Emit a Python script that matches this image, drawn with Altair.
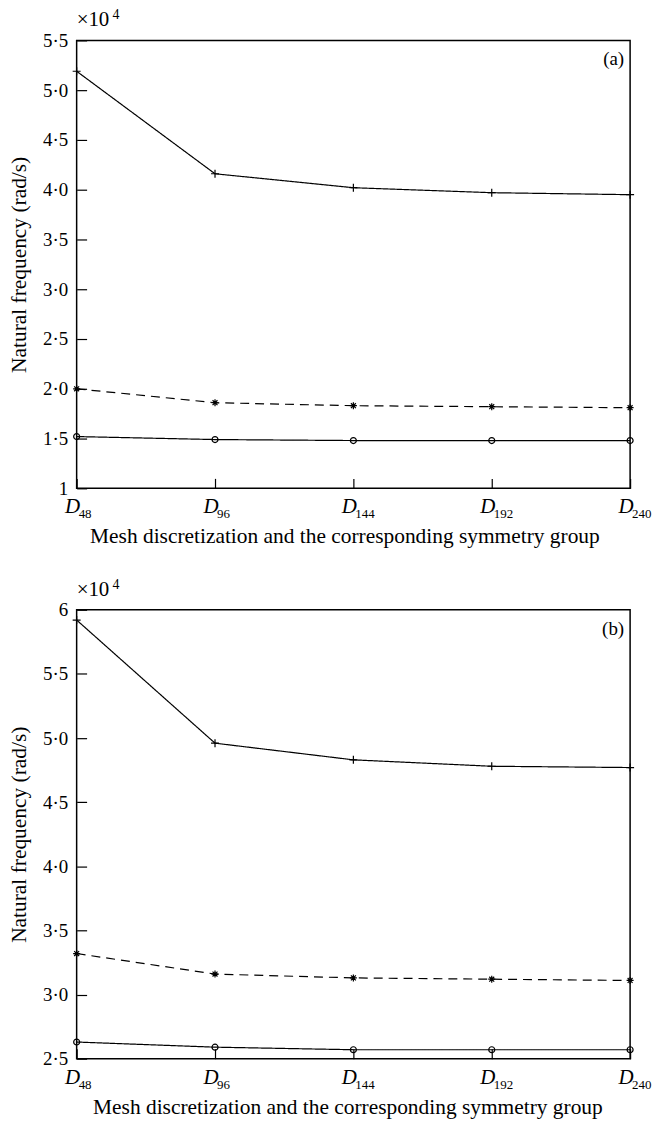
import altair as alt
import pandas as pd

# ---- data ----
groups = ["D48", "D96", "D144", "D192", "D240"]
subscripts = ["48", "96", "144", "192", "240"]
series_names = ["upper", "middle", "lower"]

a_upper = [5.19, 4.16, 4.02, 3.97, 3.95]
a_middle = [2.00, 1.86, 1.83, 1.82, 1.81]
a_lower = [1.52, 1.49, 1.48, 1.48, 1.48]

b_upper = [5.92, 4.96, 4.83, 4.78, 4.77]
b_middle = [3.32, 3.16, 3.13, 3.12, 3.11]
b_lower = [2.63, 2.59, 2.57, 2.57, 2.57]

a_ticks = [1.0, 1.5, 2.0, 2.5, 3.0, 3.5, 4.0, 4.5, 5.0, 5.5]
b_ticks = [2.5, 3.0, 3.5, 4.0, 4.5, 5.0, 5.5, 6.0]

x_title = "Mesh discretization and the corresponding symmetry group"
y_title = "Natural frequency (rad/s)"
mult_text = ["×10"]
exp_text = ["4"]
panel_tags = ["(a)", "(b)"]

FONT = "Liberation Serif"
PLUS = "M-1,0L1,0M0,-1L0,1"
STAR = "M-1,0L1,0M0,-1L0,1M-0.7,-0.7L0.7,0.7M-0.7,0.7L0.7,-0.7"


def panel(upper, middle, lower, ticks, tag, width, height, whole, xtitle_x):
    rows = []
    for s, vals in zip(series_names, [upper, middle, lower]):
        for g, v in zip(groups, vals):
            rows.append({"group": g, "series": s, "freq": v})
    df = pd.DataFrame(rows)

    xscale = alt.Scale(type="point", domain=groups, padding=0)
    x = alt.X("group:N", scale=xscale, sort=groups,
              axis=alt.Axis(title=x_title, labels=False, domain=False, grid=False,
                            tickSize=10, offset=-10, tickColor="black", tickWidth=1.2,
                            titleFont=FONT, titleFontSize=21.5, titleFontWeight="normal",
                            titleColor="black", titlePadding=37, titleX=xtitle_x,
                            titleAlign="center", titleAnchor="start"))
    label_expr = ("datum.value == %s ? '%s' : replace(format(datum.value, '.1f'), '.', '·')"
                  % (whole, whole))
    y = alt.Y("freq:Q", scale=alt.Scale(domain=[ticks[0], ticks[-1]], nice=False, zero=False),
              axis=alt.Axis(title=y_title, values=ticks, labelExpr=label_expr, domain=False,
                            grid=False, tickSize=10, offset=-10, tickColor="black", tickWidth=1.2,
                            labelFont=FONT, labelFontSize=19, labelColor="black", labelPadding=9,
                            titleFont=FONT, titleFontSize=21.5, titleFontWeight="normal",
                            titleColor="black", titlePadding=12))

    lines = alt.Chart(df).mark_line(color="black", strokeWidth=1.2).encode(
        x=x, y=y, detail="series:N",
        strokeDash=alt.StrokeDash("series:N", scale=alt.Scale(domain=series_names,
                                  range=[[1, 0], [9, 6], [1, 0]]), legend=None))
    pts = alt.Chart(df).mark_point(filled=False, color="black", strokeWidth=1.2, opacity=1).encode(
        x=x, y=y,
        shape=alt.Shape("series:N", scale=alt.Scale(domain=series_names,
                        range=[PLUS, STAR, "circle"]), legend=None),
        size=alt.Size("series:N", scale=alt.Scale(domain=series_names, range=[64, 36, 44]),
                      legend=None))

    labdf = pd.DataFrame({"group": groups, "sub": subscripts})
    dlab = alt.Chart(labdf).mark_text(text="D", font=FONT, fontStyle="italic", fontSize=21,
                                      align="center", baseline="alphabetic", dx=-4,
                                      color="black").encode(x=x, y=alt.value(height + 25))
    slab = alt.Chart(labdf).mark_text(font=FONT, fontSize=13, align="left",
                                      baseline="alphabetic", dx=2, color="black").encode(
        x=x, y=alt.value(height + 30), text="sub:N")

    mult = alt.Chart(pd.DataFrame({"t": mult_text})).mark_text(
        font=FONT, fontSize=21, align="left", baseline="alphabetic", color="black").encode(
        x=alt.value(0), y=alt.value(-14), text="t:N")
    expo = alt.Chart(pd.DataFrame({"t": exp_text})).mark_text(
        font=FONT, fontSize=14, align="left", baseline="alphabetic", color="black").encode(
        x=alt.value(36), y=alt.value(-21), text="t:N")
    tagc = alt.Chart(pd.DataFrame({"t": [tag]})).mark_text(
        font=FONT, fontSize=19, align="right", baseline="middle", color="black").encode(
        x=alt.value(width - 6), y=alt.value(19), text="t:N")

    return alt.layer(lines, pts, dlab, slab, mult, expo, tagc).properties(width=width, height=height)


pa = panel(a_upper, a_middle, a_lower, a_ticks, panel_tags[0], 556, 450, 1, 269)
pb = panel(b_upper, b_middle, b_lower, b_ticks, panel_tags[1], 556, 451, 6, 272)

chart = alt.vconcat(pa, pb, spacing=29).properties(
    padding={"left": 7, "top": 5, "right": 0, "bottom": 0}
).configure(background="white").configure_view(stroke="black", strokeWidth=1.5)

chart.save("out.html", embed_options={"renderer": "svg", "actions": False})
